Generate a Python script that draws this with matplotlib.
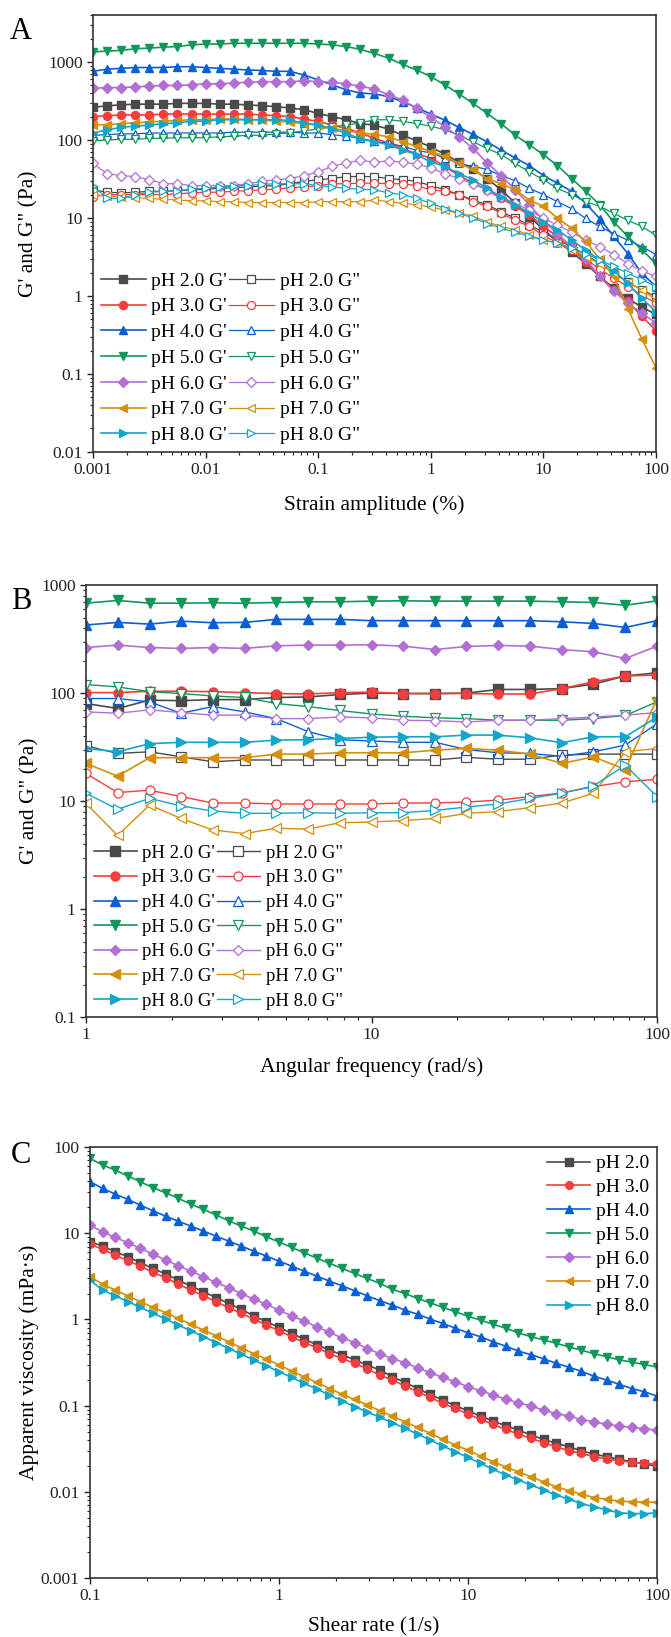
import numpy as np
import matplotlib
matplotlib.use('Agg')
import matplotlib.pyplot as plt
from matplotlib.ticker import FixedLocator, LogLocator, FuncFormatter, NullFormatter

plt.rcParams['font.family'] = ['Liberation Serif', 'DejaVu Serif']
plt.rcParams['mathtext.fontset'] = 'stix'

ph_labels = ['pH 2.0', 'pH 3.0', 'pH 4.0', 'pH 5.0', 'pH 6.0', 'pH 7.0', 'pH 8.0']
colors = ['#4a4a4a', '#f63c3c', '#0b5fd6', '#10985a', '#b26fd3', '#d4900c', '#14a6c9']
markers = ['s', 'o', '^', 'v', 'D', '<', '>']

# ---------------- A: strain sweep ----------------
strain = [0.001, 0.00133, 0.00178, 0.00237, 0.00316, 0.00422, 0.00562, 0.0075,
          0.01, 0.0133, 0.0178, 0.0237, 0.0316, 0.0422, 0.0562, 0.075,
          0.1, 0.133, 0.178, 0.237, 0.316, 0.422, 0.562, 0.75,
          1, 1.33, 1.78, 2.37, 3.16, 4.22, 5.62, 7.5,
          10, 13.3, 17.8, 23.7, 31.6, 42.2, 56.2, 75, 100]

A_pH2_G1 = [262, 275, 282, 288, 288, 288, 295, 295, 295, 288, 288, 282, 275, 268, 257, 245, 219, 200, 182, 162,
            155, 138, 115, 98, 81, 66, 52, 42, 32, 23, 15.5, 10.5, 7.1, 5.0, 3.7, 2.6, 1.78, 1.26, 0.93, 0.72, 0.58]
A_pH3_G1 = [200, 205, 210, 210, 210, 215, 215, 215, 215, 215, 215, 215, 210, 205, 200, 185, 174, 155, 141, 123,
            105, 91, 78, 66, 59, 46, 35, 28, 23, 17.8, 14.1, 11.0, 7.8, 5.8, 4.1, 2.75, 1.78, 1.2, 0.85, 0.55, 0.36]
A_pH4_G1 = [760, 810, 830, 850, 850, 850, 870, 870, 850, 830, 810, 790, 780, 760, 760, 680, 590, 510, 440, 400,
            390, 360, 310, 260, 215, 180, 145, 118, 95, 74, 59, 47, 35, 28, 22, 15.5, 9.8, 5.8, 3.5, 1.95, 1.32]
A_pH5_G1 = [1350, 1380, 1410, 1480, 1510, 1550, 1580, 1660, 1700, 1700, 1740, 1740, 1740, 1740, 1740, 1740, 1700, 1660, 1580, 1450,
            1290, 1120, 930, 790, 650, 510, 390, 295, 220, 162, 115, 87, 65, 47, 32, 22, 14.8, 8.9, 5.8, 3.9, 2.6]
A_pH6_G1 = [460, 470, 470, 480, 490, 500, 500, 510, 525, 525, 540, 550, 560, 560, 560, 575, 560, 550, 525, 490,
            450, 380, 325, 255, 195, 148, 110, 78, 51, 35, 23, 14.8, 9.3, 6.3, 4.3, 3.0, 1.78, 1.15, 0.81, 0.60, 0.45]
A_pH7_G1 = [155, 158, 162, 166, 170, 174, 178, 182, 182, 186, 186, 182, 182, 174, 170, 162, 155, 141, 132, 123,
            118, 110, 95, 83, 71, 62, 50, 42, 32, 27.5, 23, 17, 14.1, 10, 7.4, 5.0, 3.0, 1.78, 0.69, 0.28, 0.12]
A_pH8_G1 = [123, 135, 145, 151, 155, 162, 166, 174, 174, 182, 182, 182, 182, 182, 178, 166, 155, 138, 123, 102,
            95, 87, 74, 65, 52, 46, 37, 31, 24, 18.6, 14.8, 11.5, 8.9, 7.1, 5.2, 3.9, 2.9, 2.1, 1.45, 0.93, 0.63]

A_pH2_G2 = [23, 21.4, 21, 21.4, 22, 22, 22.4, 23, 23.4, 24, 24.5, 25, 25.7, 26, 27.5, 29.5, 31, 32, 34, 34,
            34, 32, 31, 29.5, 26, 23, 20, 17, 14.8, 12, 10, 8.1, 6.6, 5.2, 4.3, 3.4, 2.6, 1.95, 1.5, 1.2, 0.98]
A_pH3_G2 = [18.6, 20, 20, 20, 20, 20, 20.4, 21, 21.4, 21.4, 22, 22.4, 23, 23.4, 24.5, 25, 26, 27.5, 27.5, 28,
            28, 27.5, 27.5, 26, 23, 22, 20, 16.2, 14.1, 11.5, 9.3, 7.8, 6.0, 4.8, 3.9, 3.0, 2.2, 1.7, 1.32, 1.02, 0.81]
A_pH4_G2 = [115, 117, 120, 120, 123, 123, 123, 123, 123, 123, 126, 126, 126, 126, 126, 123, 123, 117, 112, 105,
            96, 91, 83, 74, 68, 59, 50, 46, 42, 35, 30, 24, 20, 16.2, 13.2, 9.9, 7.8, 6.3, 5.2, 4.3, 3.4]
A_pH5_G2 = [98, 100, 102, 102, 105, 105, 107, 107, 107, 110, 112, 115, 115, 120, 123, 132, 138, 148, 155, 166,
            182, 182, 174, 162, 151, 135, 115, 95, 78, 65, 50, 39, 31, 24, 20, 16.2, 14.1, 11.5, 9.3, 7.8, 6.0]
A_pH6_G2 = [50, 37, 35, 34, 31, 27.5, 27.5, 26, 26, 26, 26, 27.5, 29.5, 31, 32, 35, 39, 46, 51, 55,
            52, 54, 52, 49, 44, 37, 32, 27.5, 23, 18.6, 15.5, 12.6, 10, 8.1, 6.6, 5.2, 4.3, 3.4, 2.6, 2.1, 1.78]
A_pH7_G2 = [20, 19, 18.6, 18.2, 17.8, 17.4, 17, 16.6, 16.6, 16.2, 16.2, 15.8, 15.8, 15.8, 15.8, 15.8, 16.2, 16.2, 16.2, 16.2,
            17, 16.2, 15.5, 14.8, 13.8, 12.6, 11.5, 10.5, 8.9, 7.8, 7.1, 6.0, 5.2, 4.8, 3.9, 3.2, 2.6, 2.0, 1.5, 1.2, 0.89]
A_pH8_G2 = [26, 17.8, 17.8, 20, 21.4, 22, 22.4, 23.4, 24, 25, 26, 26, 27, 27.5, 27.5, 27.5, 26, 25, 24, 23.4,
            23, 21, 20, 17.8, 15.5, 13.2, 11.5, 10, 8.5, 7.4, 6.6, 5.8, 5.2, 4.8, 4.1, 3.5, 2.9, 2.4, 1.95, 1.62, 1.32]

# ---------------- B: frequency sweep ----------------
freq = [1, 1.29, 1.67, 2.15, 2.78, 3.59, 4.64, 5.99, 7.74,
        10, 12.9, 16.7, 21.5, 27.8, 35.9, 46.4, 59.9, 77.4, 100]

B_pH2_G1 = [80, 72, 86, 85, 87, 87, 91, 92, 97, 100, 99, 99, 100, 108, 108, 110, 121, 144, 154]
B_pH3_G1 = [101, 101, 104, 104, 103, 101, 99, 98, 101, 102, 99, 99, 99, 98, 98, 110, 127, 144, 147]
B_pH4_G1 = [427, 451, 435, 463, 448, 451, 481, 481, 481, 468, 468, 468, 468, 468, 468, 457, 441, 405, 468]
B_pH5_G1 = [680, 720, 680, 680, 685, 680, 690, 700, 700, 710, 715, 710, 710, 710, 710, 700, 690, 650, 715]
B_pH6_G1 = [264, 278, 264, 259, 264, 259, 274, 278, 278, 280, 272, 253, 270, 276, 272, 253, 241, 209, 272]
B_pH7_G1 = [22.3, 17, 25.2, 25.2, 25.2, 25.2, 27.2, 27.2, 28, 28, 28, 29.6, 30.7, 29.6, 27.2, 22.3, 25.7, 19.6, 89]
B_pH8_G1 = [30.7, 28.6, 34, 35, 35, 35, 36.7, 37, 38, 39, 39.4, 39.4, 40.8, 40.8, 38.5, 34.7, 39.4, 39.4, 60]

B_pH2_G2 = [32.5, 27.6, 28.6, 25.7, 23.1, 24, 24, 24, 24, 24, 24, 24, 25.4, 24.4, 24.4, 26.7, 27.2, 27.2, 27.2]
B_pH3_G2 = [18, 12, 12.6, 11, 9.6, 9.6, 9.4, 9.4, 9.4, 9.4, 9.6, 9.6, 9.8, 10.2, 11, 11.9, 13.6, 15.1, 15.9]
B_pH4_G2 = [89, 89, 83, 65, 75, 67, 58, 44, 37, 36, 35, 35, 30, 28, 27.6, 26, 28.6, 33, 52]
B_pH5_G2 = [120, 114, 103, 99, 94, 91, 80, 75, 69, 64, 61, 59, 58, 56, 56, 56, 58, 62, 83]
B_pH6_G2 = [67, 65, 70, 66, 62.5, 62.5, 58, 58, 60, 59, 56, 55.5, 54, 56, 56, 58, 60, 62.5, 66]
B_pH7_G2 = [9.5, 4.8, 9.2, 6.9, 5.4, 5.0, 5.6, 5.5, 6.3, 6.4, 6.6, 6.9, 7.7, 8.0, 8.7, 9.6, 11.8, 28.6, 30.7]
B_pH8_G2 = [11.8, 8.4, 10.6, 9.0, 8.1, 7.7, 7.7, 7.8, 7.7, 7.8, 7.8, 8.2, 8.8, 9.4, 10.6, 11.8, 13.8, 21.5, 11]

# ---------------- C: flow curves ----------------
shear = [0.1, 0.1166, 0.1359, 0.1585, 0.1848, 0.2154, 0.2512, 0.2929, 0.3415, 0.3981, 0.4642, 0.5412, 0.631, 0.7356, 0.8577,
         1, 1.166, 1.359, 1.585, 1.848, 2.154, 2.512, 2.929, 3.415, 3.981, 4.642, 5.412, 6.31, 7.356, 8.577,
         10, 11.66, 13.59, 15.85, 18.48, 21.54, 25.12, 29.29, 34.15, 39.81, 46.42, 54.12, 63.1, 73.56, 85.77, 100]

C_pH2 = [7.98, 7.10, 6.11, 5.34, 4.55, 3.91, 3.36, 2.86, 2.44, 2.10, 1.79, 1.54, 1.31, 1.10, 0.94, 0.81,
         0.69, 0.59, 0.51, 0.44, 0.39, 0.34, 0.296, 0.259, 0.216, 0.186, 0.158, 0.135, 0.116, 0.0998, 0.0873,
         0.0757, 0.0662, 0.0585, 0.0521, 0.0456, 0.0406, 0.0365, 0.0334, 0.0300, 0.0274, 0.0256, 0.0238, 0.0224, 0.0210, 0.0199]
C_pH3 = [7.50, 6.50, 5.58, 4.80, 4.16, 3.51, 3.05, 2.57, 2.19, 1.88, 1.61, 1.37, 1.18, 1.01, 0.86, 0.74,
         0.63, 0.54, 0.47, 0.40, 0.353, 0.309, 0.268, 0.226, 0.198, 0.169, 0.145, 0.125, 0.106, 0.0929, 0.0798,
         0.0692, 0.0605, 0.0530, 0.0468, 0.0417, 0.0372, 0.0334, 0.0300, 0.0279, 0.0256, 0.0240, 0.0230, 0.0220, 0.0214, 0.0210]
C_pH4 = [39.6, 33.1, 28.5, 24.7, 21.2, 18.2, 15.8, 13.8, 12.1, 10.6, 9.27, 8.11, 7.10, 6.21, 5.43, 4.75,
         4.16, 3.64, 3.18, 2.79, 2.46, 2.15, 1.88, 1.65, 1.47, 1.28, 1.15, 1.01, 0.90, 0.79, 0.70,
         0.63, 0.55, 0.49, 0.43, 0.39, 0.35, 0.31, 0.28, 0.25, 0.22, 0.198, 0.177, 0.158, 0.145, 0.129]
C_pH5 = [73.8, 61.8, 54.1, 46.1, 39.6, 33.7, 29.5, 25.4, 21.8, 18.9, 16.3, 14.0, 12.1, 10.6, 9.1, 7.9,
         6.86, 5.94, 5.15, 4.47, 3.91, 3.42, 2.99, 2.62, 2.23, 2.0, 1.75, 1.56, 1.38, 1.23, 1.09,
         0.98, 0.88, 0.79, 0.70, 0.63, 0.58, 0.53, 0.48, 0.44, 0.40, 0.37, 0.34, 0.32, 0.30, 0.28]
C_pH6 = [12.4, 10.4, 8.96, 7.76, 6.67, 5.73, 4.89, 4.20, 3.64, 3.13, 2.69, 2.33, 2.00, 1.72, 1.50, 1.28,
         1.10, 0.96, 0.82, 0.71, 0.61, 0.54, 0.46, 0.40, 0.35, 0.315, 0.275, 0.241, 0.213, 0.189, 0.166,
         0.149, 0.133, 0.119, 0.108, 0.099, 0.089, 0.081, 0.076, 0.069, 0.065, 0.061, 0.058, 0.056, 0.054, 0.052]
C_pH7 = [3.13, 2.57, 2.19, 1.88, 1.61, 1.38, 1.20, 1.03, 0.88, 0.75, 0.65, 0.55, 0.47, 0.40, 0.347, 0.296,
         0.254, 0.216, 0.186, 0.158, 0.136, 0.118, 0.102, 0.0873, 0.0757, 0.0650, 0.0560, 0.0477, 0.0406, 0.0349, 0.0305,
         0.0260, 0.0224, 0.0195, 0.0171, 0.0150, 0.0131, 0.0115, 0.0103, 0.0094, 0.0086, 0.0082, 0.0078, 0.0077, 0.0076, 0.0076]
C_pH8 = [2.86, 2.19, 1.88, 1.61, 1.38, 1.18, 1.01, 0.86, 0.74, 0.63, 0.54, 0.46, 0.396, 0.338, 0.290, 0.247,
         0.213, 0.181, 0.156, 0.133, 0.114, 0.0971, 0.0849, 0.0731, 0.0634, 0.0545, 0.0468, 0.0399, 0.0340, 0.0292, 0.0251,
         0.0214, 0.0182, 0.0157, 0.0137, 0.0120, 0.0105, 0.0092, 0.0082, 0.0073, 0.0067, 0.0062, 0.0057, 0.0056, 0.0056, 0.0057]

A_G1 = [A_pH2_G1, A_pH3_G1, A_pH4_G1, A_pH5_G1, A_pH6_G1, A_pH7_G1, A_pH8_G1]
A_G2 = [A_pH2_G2, A_pH3_G2, A_pH4_G2, A_pH5_G2, A_pH6_G2, A_pH7_G2, A_pH8_G2]
B_G1 = [B_pH2_G1, B_pH3_G1, B_pH4_G1, B_pH5_G1, B_pH6_G1, B_pH7_G1, B_pH8_G1]
B_G2 = [B_pH2_G2, B_pH3_G2, B_pH4_G2, B_pH5_G2, B_pH6_G2, B_pH7_G2, B_pH8_G2]
C_eta = [C_pH2, C_pH3, C_pH4, C_pH5, C_pH6, C_pH7, C_pH8]


def style_axis(ax, xlim, ylim, xticks, yticks):
    ax.set_xscale('log')
    ax.set_yscale('log')
    ax.set_xlim(xlim)
    ax.set_ylim(ylim)
    fmt = FuncFormatter(lambda v, p: f'{v:g}')
    for axis, ticks in ((ax.xaxis, xticks), (ax.yaxis, yticks)):
        axis.set_major_locator(FixedLocator(ticks))
        axis.set_major_formatter(fmt)
        axis.set_minor_locator(LogLocator(base=10, subs=np.arange(2, 10), numticks=100))
        axis.set_minor_formatter(NullFormatter())
    ax.tick_params(which='major', direction='out', length=4.5, width=1.0, labelsize=12.5,
                   pad=3, top=False, right=False, colors='#222222')
    ax.tick_params(which='minor', direction='out', length=2.5, width=0.8, top=False, right=False,
                   colors='#222222')
    for s in ax.spines.values():
        s.set_linewidth(1.2)
        s.set_color('#333333')


def msize(m, base):
    return base * 0.85 if m == 'D' else base


fig = plt.figure(figsize=(6.71, 16.37), dpi=100)

# ---- panel A ----
axA = fig.add_axes([0.1386, 0.7239, 0.839, 0.2669])
h1, h2 = [], []
for i in range(7):
    l1, = axA.plot(strain, A_G1[i], color=colors[i], marker=markers[i], ms=msize(markers[i], 5.8),
                   lw=1.2, mec=colors[i], mfc=colors[i], label=ph_labels[i] + " G'")
    l2, = axA.plot(strain, A_G2[i], color=colors[i], marker=markers[i], ms=msize(markers[i], 5.8),
                   lw=0.9, mec=colors[i], mfc='white', mew=0.9, label=ph_labels[i] + ' G"')
    h1.append(l1)
    h2.append(l2)
style_axis(axA, (0.001, 100), (0.01, 4000), [0.001, 0.01, 0.1, 1, 10, 100],
           [0.01, 0.1, 1, 10, 100, 1000])
axA.set_xlabel('Strain amplitude (%)', fontsize=15.5)
axA.set_ylabel('G\' and G" (Pa)', fontsize=15.5)
axA.xaxis.set_label_coords(0.5, -0.098)
axA.yaxis.set_label_coords(-0.096, 0.5)
axA.legend(handles=h1 + h2, ncol=2, loc='lower left', frameon=False, fontsize=14,
           handlelength=2.3, handletextpad=0.3, columnspacing=0.1, labelspacing=0.42,
           borderaxespad=0.2, borderpad=0.2)

# ---- panel B ----
axB = fig.add_axes([0.1282, 0.3787, 0.851, 0.2639])
h1, h2 = [], []
for i in range(7):
    l1, = axB.plot(freq, B_G1[i], color=colors[i], marker=markers[i], ms=msize(markers[i], 6.5),
                   lw=1.2, mec=colors[i], mfc=colors[i], label=ph_labels[i] + " G'")
    l2, = axB.plot(freq, B_G2[i], color=colors[i], marker=markers[i], ms=msize(markers[i], 6.5),
                   lw=1.0, mec=colors[i], mfc='white', mew=0.9, label=ph_labels[i] + ' G"')
    h1.append(l1)
    h2.append(l2)
style_axis(axB, (1, 100), (0.1, 1000), [1, 10, 100], [0.1, 1, 10, 100, 1000])
axB.set_xlabel('Angular frequency (rad/s)', fontsize=15.5)
axB.set_ylabel('G\' and G" (Pa)', fontsize=15.5)
axB.xaxis.set_label_coords(0.5, -0.093)
axB.yaxis.set_label_coords(-0.082, 0.5)
axB.legend(handles=h1 + h2, ncol=2, loc='lower left', frameon=False, fontsize=13.5,
           handlelength=2.3, handletextpad=0.3, columnspacing=0.1, labelspacing=0.4,
           borderaxespad=0.2, borderpad=0.2)

# ---- panel C ----
axC = fig.add_axes([0.1341, 0.0360, 0.845, 0.2633])
for i in range(7):
    axC.plot(shear, C_eta[i], color=colors[i], marker=markers[i], ms=msize(markers[i], 5.5),
             lw=1.2, mec=colors[i], mfc=colors[i], label=ph_labels[i])
style_axis(axC, (0.1, 100), (0.001, 100), [0.1, 1, 10, 100], [0.001, 0.01, 0.1, 1, 10, 100])
axC.set_xlabel('Shear rate (1/s)', fontsize=15.5)
axC.set_ylabel('Apparent viscosity (mPa\u00b7s)', fontsize=15.5)
axC.xaxis.set_label_coords(0.5, -0.09)
axC.yaxis.set_label_coords(-0.09, 0.5)
axC.legend(loc='upper right', frameon=False, fontsize=14, handlelength=2.2, handletextpad=0.3,
           labelspacing=0.32, borderaxespad=0.2, borderpad=0.2)

for letter, y in (('A', 0.9805), ('B', 0.6323), ('C', 0.2944)):
    fig.text(0.031, y, letter, fontsize=22, ha='center', va='center')

fig.savefig('out.png', dpi=100)
